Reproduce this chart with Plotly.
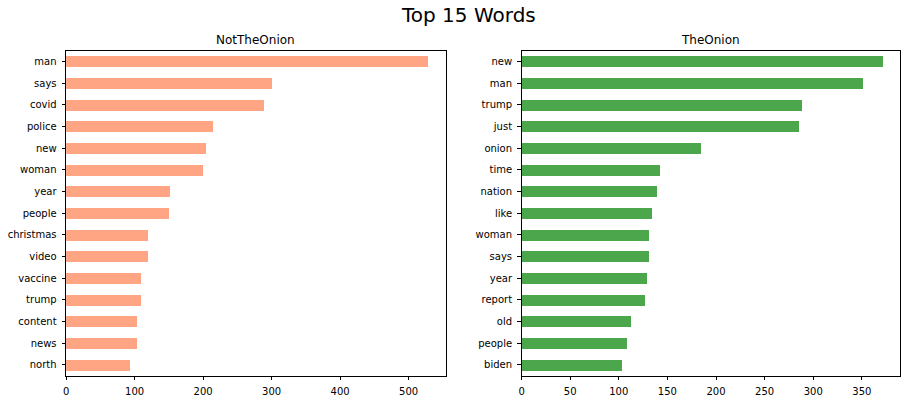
import plotly.graph_objects as go

not_words = ["man", "says", "covid", "police", "new", "woman", "year", "people",
             "christmas", "video", "vaccine", "trump", "content", "news", "north"]
not_counts = [528, 301, 289, 215, 205, 200, 152, 151, 120, 120, 110, 110, 104, 104, 94]

onion_words = ["new", "man", "trump", "just", "onion", "time", "nation", "like",
               "woman", "says", "year", "report", "old", "people", "biden"]
onion_counts = [371, 351, 288, 285, 184, 142, 139, 134, 131, 131, 129, 127, 112, 108, 103]

W, H = 907, 400
FONT = "DejaVu Sans"

fig = go.Figure()
fig.add_trace(go.Bar(x=not_counts, y=not_words, orientation="h", width=0.5,
                     marker=dict(color="rgba(255,127,80,0.7)", line=dict(width=0)),
                     xaxis="x", yaxis="y", showlegend=False))
fig.add_trace(go.Bar(x=onion_counts, y=onion_words, orientation="h", width=0.5,
                     marker=dict(color="rgba(0,128,0,0.7)", line=dict(width=0)),
                     xaxis="x2", yaxis="y2", showlegend=False))

ydom = [(400 - 375.7) / H, (400 - 50.7) / H]
axis_common = dict(showline=True, mirror=True, linecolor="black", linewidth=1,
                   ticks="outside", ticklen=3.5, tickwidth=0.8, tickcolor="black",
                   showgrid=False, zeroline=False, ticklabelstandoff=3,
                   tickfont=dict(family=FONT, size=10, color="black"))

fig.update_layout(
    width=W, height=H,
    margin=dict(l=0, r=0, t=0, b=0),
    paper_bgcolor="white", plot_bgcolor="white",
    font=dict(family=FONT, color="black"),
    bargap=0,
    xaxis=dict(domain=[63.3 / W, 444.3 / W], range=[0, 554.4], tickvals=[0, 100, 200, 300, 400, 500],
               anchor="y", **axis_common),
    yaxis=dict(domain=ydom, type="category", categoryorder="array", categoryarray=not_words,
               range=[14.5, -0.5], anchor="x", **axis_common),
    xaxis2=dict(domain=[520.3 / W, 900.3 / W], range=[0, 389.6], tickvals=[0, 50, 100, 150, 200, 250, 300, 350],
                anchor="y2", **axis_common),
    yaxis2=dict(domain=ydom, type="category", categoryorder="array", categoryarray=onion_words,
                range=[14.5, -0.5], anchor="x2", **axis_common),
    annotations=[
        dict(text="Top 15 Words", x=467.5 / W, y=1 - 15 / H, xref="paper", yref="paper",
             xanchor="center", yanchor="middle", showarrow=False,
             font=dict(family=FONT, size=20, color="black")),
        dict(text="NotTheOnion", x=253.8 / W, y=1 - 40 / H, xref="paper", yref="paper",
             xanchor="center", yanchor="middle", showarrow=False,
             font=dict(family=FONT, size=12, color="black")),
        dict(text="TheOnion", x=710.3 / W, y=1 - 40 / H, xref="paper", yref="paper",
             xanchor="center", yanchor="middle", showarrow=False,
             font=dict(family=FONT, size=12, color="black")),
    ],
)

fig.write_html("out.html", config={"displayModeBar": False},
               post_script="document.body.style.margin='0';document.body.style.overflow='hidden';")
